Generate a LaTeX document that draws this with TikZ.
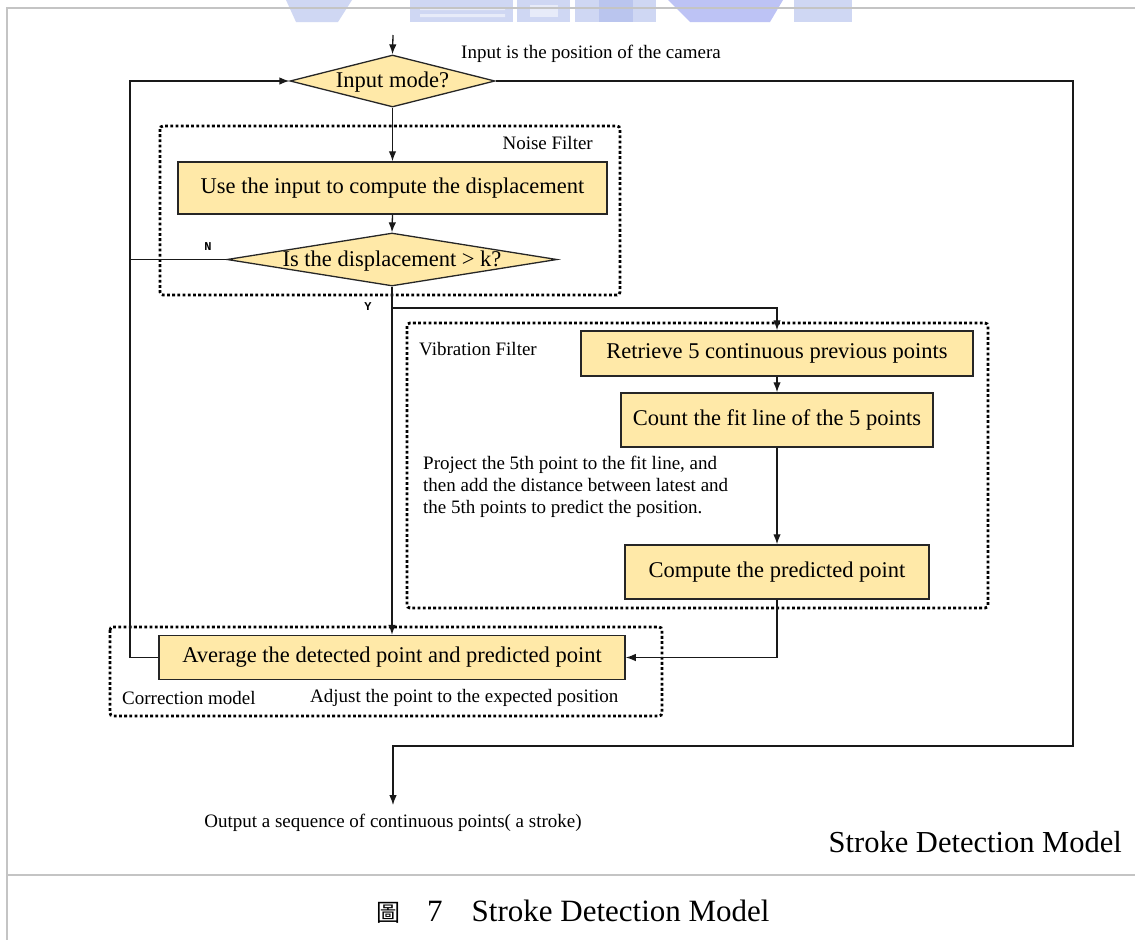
\documentclass[tikz,border=0pt]{standalone}
\usepackage{fontspec}
\setmainfont{Liberation Serif}
\setmonofont{Liberation Mono}
\newfontfamily\cjkfont{Noto Sans CJK TC}
\usetikzlibrary{shapes.geometric,arrows.meta}

\definecolor{boxfill}{HTML}{FFE9A8}
\definecolor{framegray}{HTML}{C4C4C4}
\definecolor{markblue}{HTML}{A9B7EA}

\tikzset{
  procbox/.style={draw=black!85, line width=1.5pt, fill=boxfill, inner sep=0pt,
    font=\fontsize{22.5}{26}\selectfont},
  decision/.style={diamond, draw=black!85, line width=1.3pt, fill=boxfill, inner sep=0pt},
  dectext/.style={inner sep=0pt, font=\fontsize{22.5}{26}\selectfont},
  group/.style={draw=black, line width=2.8pt, dash pattern=on 2.8pt off 2.4pt, rounded corners=3pt},
  flow/.style={line width=1.3pt, draw=black!90},
  arr/.style={flow, -{Latex[length=10pt,width=7.5pt]}},
  note/.style={inner sep=0pt, font=\fontsize{19}{22}\selectfont},
  tag/.style={inner sep=0pt, font=\ttfamily\bfseries\fontsize{12}{12}\selectfont},
}

\begin{document}
\begin{tikzpicture}[x=1pt,y=-1pt]
\useasboundingbox (0,0) rectangle (1135,940);
\fill[white] (0,0) rectangle (1135,940);

% faint blue emblem along the top edge
\begin{scope}[markblue, opacity=0.55]
  \fill (286,0) -- (352,0) -- (338,22) -- (296,22) -- cycle;
  \fill (410,0) rectangle (513,22);
  \fill (517,0) rectangle (570,22);
  \fill (575,0) rectangle (633,22);
  \fill (599,0) rectangle (656,22);
  \fill[markblue!80!blue] (668,0) -- (783,0) -- (770,22) -- (690,22) -- cycle;
  \fill (794,0) rectangle (852,22);
\end{scope}
\fill[white, opacity=0.5] (420,7) rectangle (505,10) (420,14) rectangle (505,17);
\fill[white, opacity=0.5] (530,5) rectangle (558,17);

% page frame
\draw[framegray, line width=2pt] (1135,8) -- (7,8) -- (7,940);
\draw[framegray, line width=2pt] (7,875) -- (1135,875);

% grouping frames
\draw[group] (160,126) rectangle (620,295);
\draw[group] (407,323) rectangle (988,608);
\draw[group] (110,627) rectangle (662,716);

% decisions
\node[decision, minimum width=205pt, minimum height=52pt] (mode) at (392.5,81) {};
\node[dectext] (modetext) at (392.5,82) {Input mode?};
\node[decision, minimum width=330pt, minimum height=53pt] (disp) at (392,259.5) {};
\node[dectext] (disptext) at (392,261) {Is the displacement > k?};

% process steps
\node[procbox, minimum width=429pt, minimum height=52pt] (use) at (392.5,188) {Use the input to compute the displacement};
\node[procbox, minimum width=392pt, minimum height=45pt] (retr) at (777,353.5) {Retrieve 5 continuous previous points};
\node[procbox, minimum width=312pt, minimum height=54pt] (fit) at (777,420) {Count the fit line of the 5 points};
\node[procbox, minimum width=304pt, minimum height=54pt] (pred) at (777,572) {Compute the predicted point};
\node[procbox, minimum width=466pt, minimum height=44pt] (avg) at (392,657.5) {Average the detected point and predicted point};

% annotations
\node[note, anchor=west] (camera) at (461,54) {Input is the position of the camera};
\node[note, anchor=east] (noise) at (593,143) {Noise Filter};
\node[note, anchor=west] (vib) at (419,349) {Vibration Filter};
\node[note, anchor=north west, align=left] (proj) at (423,456)
  {Project the 5th point to the fit line, and\\
   then add the distance between latest and\\
   the 5th points to predict the position.};
\node[note, anchor=west] (corr) at (122,698) {Correction model};
\node[note, anchor=west] (adjust) at (310,698) {Adjust the point to the expected position};
\node[note, inner ysep=9pt] (out) at (393,823) {Output a sequence of continuous points( a stroke)};
\node[tag] (ntag) at (208,247) {N};
\node[tag] (ytag) at (368,307) {Y};

\node[inner sep=0pt, anchor=east, font=\fontsize{30.5}{34}\selectfont] (title) at (1122,842) {Stroke Detection Model};
\node[inner sep=0pt, anchor=west, font=\fontsize{31}{34}\selectfont] (caption) at (376,912)
  {{\cjkfont\fontsize{24}{24}\selectfont 圖}\hspace{27pt}7\hspace{29pt}Stroke Detection Model};

% connectors
\coordinate (start) at (393,35);
\coordinate (loop) at (130,81);
\coordinate (ybr) at (392,308);
\coordinate (outturn) at (1073,746);

\draw[arr] (start) -- (mode.north);
\draw[arr] (mode.south) -- (use.north);
\draw[arr] (use.south) -- (disp.north);
\draw[flow] (disp.west) -- (disp.west -| loop);
\draw[arr] (disp.south) -- (avg.north);
\draw[arr] (ybr) -| (retr.north);
\draw[arr] (retr.south) -- (fit.north);
\draw[arr] (fit.south) -- (pred.north);
\draw[arr] (pred.south) |- (avg.east);
\draw[arr] (avg.west) -| (loop) -- (mode.west);
\draw[arr] (mode.east) -| (outturn) -| (out.north);
\end{tikzpicture}
\end{document}
